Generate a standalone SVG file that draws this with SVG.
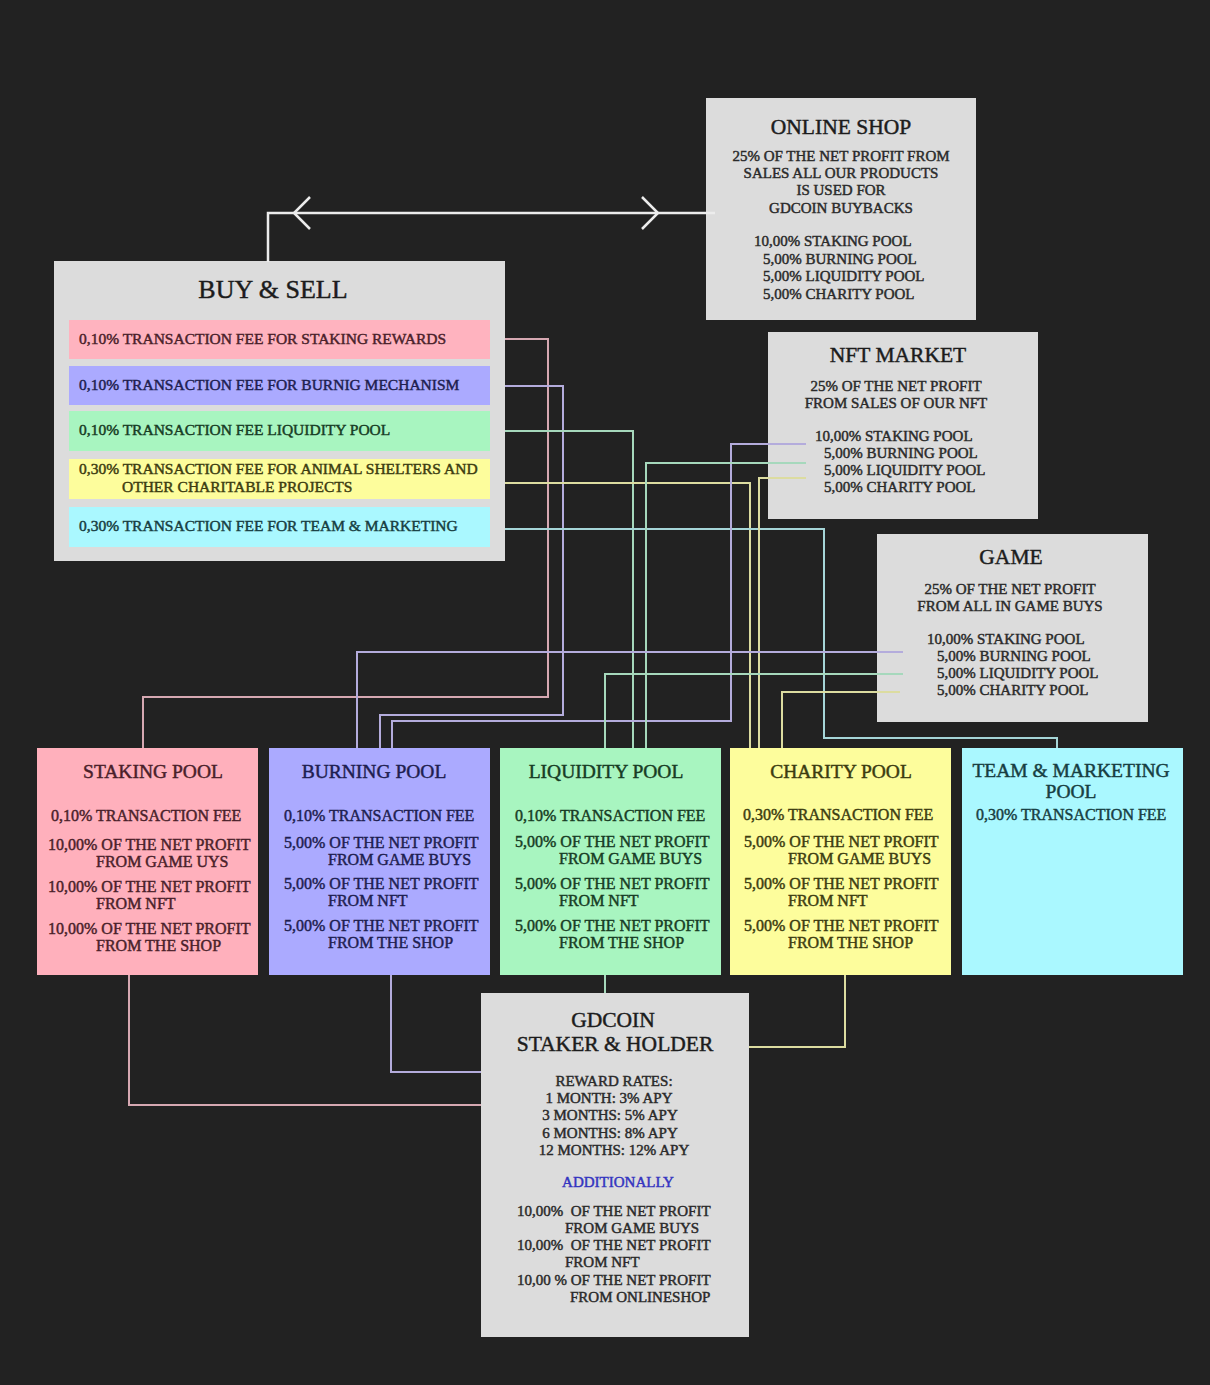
<svg xmlns="http://www.w3.org/2000/svg" width="1210" height="1385" viewBox="0 0 1210 1385">
<style>
text{font-family:"Liberation Serif","Times New Roman",serif;stroke-width:0.45px;}
.ttl{font-size:21.5px;fill:#1c1c1c;stroke:#1c1c1c;text-anchor:middle;}
.pt{font-size:19.5px;text-anchor:middle;}
.b{font-size:15px;fill:#2a2a2a;stroke:#2a2a2a;}
.r{font-size:15.5px;}
.c{text-anchor:middle;}
.p{font-size:16px;}
.gray{fill:#dcdcdc;}
.cn{fill:none;stroke-width:2;}
.kp{stroke:#d6a8b2;}.ku{stroke:#b4acdc;}.kg{stroke:#a6d8bc;}.ky{stroke:#dcdca0;}.kc{stroke:#a6d6d8;}
.tp{fill:#4a1f2a;stroke:#4a1f2a;}.tu{fill:#1e1e50;stroke:#1e1e50;}.tg{fill:#173c24;stroke:#173c24;}.ty{fill:#3c3c10;stroke:#3c3c10;}.tc{fill:#173e42;stroke:#173e42;}
</style>
<rect x="0" y="0" width="1210" height="1385" fill="#222222"/>

<g id="online-shop">
<rect class="gray" x="706" y="98" width="270" height="222"/>
<text class="ttl" x="841" y="134">ONLINE SHOP</text>
<text class="b c" x="841" y="161">25% OF THE NET PROFIT FROM</text>
<text class="b c" x="841" y="178">SALES ALL OUR PRODUCTS</text>
<text class="b c" x="841" y="195">IS USED FOR</text>
<text class="b c" x="841" y="213">GDCOIN BUYBACKS</text>
<text class="b" x="754" y="246">10,00% STAKING POOL</text>
<text class="b" x="763" y="264">5,00% BURNING POOL</text>
<text class="b" x="763" y="281">5,00% LIQUIDITY POOL</text>
<text class="b" x="763" y="299">5,00% CHARITY POOL</text>
</g>

<g id="buy-sell">
<rect class="gray" x="54" y="261" width="451" height="300"/>
<text class="ttl" x="273" y="298" style="font-size:26px">BUY &amp; SELL</text>
<rect x="69" y="320" width="421" height="39" fill="#ffb3bf"/>
<text class="b r tp" x="79" y="344">0,10% TRANSACTION FEE FOR STAKING REWARDS</text>
<rect x="69" y="366" width="421" height="39" fill="#abaaff"/>
<text class="b r tu" x="79" y="390">0,10% TRANSACTION FEE FOR BURNIG MECHANISM</text>
<rect x="69" y="411" width="421" height="40" fill="#a8f5c0"/>
<text class="b r tg" x="79" y="435">0,10% TRANSACTION FEE LIQUIDITY POOL</text>
<rect x="69" y="459" width="421" height="40" fill="#fdfd9c"/>
<text class="b r ty" x="79" y="474">0,30% TRANSACTION FEE FOR ANIMAL SHELTERS AND</text>
<text class="b r ty" x="122" y="492">OTHER CHARITABLE PROJECTS</text>
<rect x="69" y="507" width="421" height="40" fill="#aaf8ff"/>
<text class="b r tc" x="79" y="531">0,30% TRANSACTION FEE FOR TEAM &amp; MARKETING</text>
</g>

<g id="nft-market">
<rect class="gray" x="768" y="332" width="270" height="187"/>
<text class="ttl" x="898" y="362">NFT MARKET</text>
<text class="b c" x="896" y="391">25% OF THE NET PROFIT</text>
<text class="b c" x="896" y="408">FROM SALES OF OUR NFT</text>
<text class="b" x="815" y="441">10,00% STAKING POOL</text>
<text class="b" x="824" y="458">5,00% BURNING POOL</text>
<text class="b" x="824" y="475">5,00% LIQUIDITY POOL</text>
<text class="b" x="824" y="492">5,00% CHARITY POOL</text>
</g>

<g id="game">
<rect class="gray" x="877" y="534" width="271" height="188"/>
<text class="ttl" x="1011" y="564">GAME</text>
<text class="b c" x="1010" y="594">25% OF THE NET PROFIT</text>
<text class="b c" x="1010" y="611">FROM ALL IN GAME BUYS</text>
<text class="b" x="927" y="644">10,00% STAKING POOL</text>
<text class="b" x="937" y="661">5,00% BURNING POOL</text>
<text class="b" x="937" y="678">5,00% LIQUIDITY POOL</text>
<text class="b" x="937" y="695">5,00% CHARITY POOL</text>
</g>

<g id="staking-pool">
<rect x="37" y="748" width="221" height="227" fill="#ffb0bc"/>
<text class="pt tp" x="153" y="778">STAKING POOL</text>
<text class="b p tp" x="51" y="821">0,10% TRANSACTION FEE</text>
<text class="b p tp" x="48" y="850">10,00% OF THE NET PROFIT</text>
<text class="b p tp" x="96" y="867">FROM GAME UYS</text>
<text class="b p tp" x="48" y="892">10,00% OF THE NET PROFIT</text>
<text class="b p tp" x="96" y="909">FROM NFT</text>
<text class="b p tp" x="48" y="934">10,00% OF THE NET PROFIT</text>
<text class="b p tp" x="96" y="951">FROM THE SHOP</text>
</g>

<g id="burning-pool">
<rect x="269" y="748" width="221" height="227" fill="#abaaff"/>
<text class="pt tu" x="374" y="778">BURNING POOL</text>
<text class="b p tu" x="284" y="821">0,10% TRANSACTION FEE</text>
<text class="b p tu" x="284" y="848">5,00% OF THE NET PROFIT</text>
<text class="b p tu" x="328" y="865">FROM GAME BUYS</text>
<text class="b p tu" x="284" y="889">5,00% OF THE NET PROFIT</text>
<text class="b p tu" x="328" y="906">FROM NFT</text>
<text class="b p tu" x="284" y="931">5,00% OF THE NET PROFIT</text>
<text class="b p tu" x="328" y="948">FROM THE SHOP</text>
</g>

<g id="liquidity-pool">
<rect x="500" y="748" width="221" height="227" fill="#a8f5c0"/>
<text class="pt tg" x="606" y="778">LIQUIDITY POOL</text>
<text class="b p tg" x="515" y="821">0,10% TRANSACTION FEE</text>
<text class="b p tg" x="515" y="847">5,00% OF THE NET PROFIT</text>
<text class="b p tg" x="559" y="864">FROM GAME BUYS</text>
<text class="b p tg" x="515" y="889">5,00% OF THE NET PROFIT</text>
<text class="b p tg" x="559" y="906">FROM NFT</text>
<text class="b p tg" x="515" y="931">5,00% OF THE NET PROFIT</text>
<text class="b p tg" x="559" y="948">FROM THE SHOP</text>
</g>

<g id="charity-pool">
<rect x="730" y="748" width="221" height="227" fill="#fdfd9c"/>
<text class="pt ty" x="841" y="778">CHARITY POOL</text>
<text class="b p ty" x="743" y="820">0,30% TRANSACTION FEE</text>
<text class="b p ty" x="744" y="847">5,00% OF THE NET PROFIT</text>
<text class="b p ty" x="788" y="864">FROM GAME BUYS</text>
<text class="b p ty" x="744" y="889">5,00% OF THE NET PROFIT</text>
<text class="b p ty" x="788" y="906">FROM NFT</text>
<text class="b p ty" x="744" y="931">5,00% OF THE NET PROFIT</text>
<text class="b p ty" x="788" y="948">FROM THE SHOP</text>
</g>

<g id="team-marketing-pool">
<rect x="962" y="748" width="221" height="227" fill="#aaf8ff"/>
<text class="pt tc" x="1071" y="777">TEAM &amp; MARKETING</text>
<text class="pt tc" x="1071" y="798">POOL</text>
<text class="b p tc" x="976" y="820">0,30% TRANSACTION FEE</text>
</g>

<g id="gdcoin">
<rect class="gray" x="481" y="993" width="268" height="344"/>
<text class="ttl" x="613" y="1027">GDCOIN</text>
<text class="ttl" x="615" y="1051">STAKER &amp; HOLDER</text>
<text class="b c" x="614" y="1086">REWARD RATES:</text>
<text class="b c" x="609" y="1103">1 MONTH: 3% APY</text>
<text class="b c" x="610" y="1120">3 MONTHS: 5% APY</text>
<text class="b c" x="610" y="1138">6 MONTHS: 8% APY</text>
<text class="b c" x="614" y="1155">12 MONTHS: 12% APY</text>
<text class="b c" x="618" y="1187" style="fill:#3434c0;stroke:#3434c0">ADDITIONALLY</text>
<text class="b" x="517" y="1216" xml:space="preserve">10,00%  OF THE NET PROFIT</text>
<text class="b" x="565" y="1233">FROM GAME BUYS</text>
<text class="b" x="517" y="1250" xml:space="preserve">10,00%  OF THE NET PROFIT</text>
<text class="b" x="565" y="1267">FROM NFT</text>
<text class="b" x="517" y="1285">10,00 % OF THE NET PROFIT</text>
<text class="b" x="570" y="1302">FROM ONLINESHOP</text>
</g>

<g id="connectors">
<polyline fill="none" stroke="#ececec" stroke-width="2.5" points="268,262 268,213 715,213"/>
<polyline fill="none" stroke="#ececec" stroke-width="2.5" points="310,197 294,213 310,229"/>
<polyline fill="none" stroke="#ececec" stroke-width="2.5" points="642,197 658,213 642,229"/>
<polyline class="cn kp" points="505,339 548,339 548,697 143,697 143,748"/>
<polyline class="cn ku" points="505,386 563,386 563,715 380,715 380,748"/>
<polyline class="cn kg" points="505,431 633,431 633,748"/>
<polyline class="cn ky" points="505,483 750,483 750,748"/>
<polyline class="cn kc" points="505,529 824,529 824,738 1057,738 1057,748"/>
<polyline class="cn ku" points="806,444 731,444 731,721 392,721 392,748"/>
<polyline class="cn kg" points="806,463 646,463 646,748"/>
<polyline class="cn ky" points="806,478 759,478 759,748"/>
<polyline class="cn ku" points="903,652 357,652 357,748"/>
<polyline class="cn kg" points="903,674 605,674 605,748"/>
<polyline class="cn ky" points="900,692 782,692 782,748"/>
<polyline class="cn kp" points="129,975 129,1105 481,1105"/>
<polyline class="cn ku" points="391,975 391,1072 481,1072"/>
<polyline class="cn kg" points="605,975 605,993"/>
<polyline class="cn ky" points="845,975 845,1047 749,1047"/>
</g>
</svg>
